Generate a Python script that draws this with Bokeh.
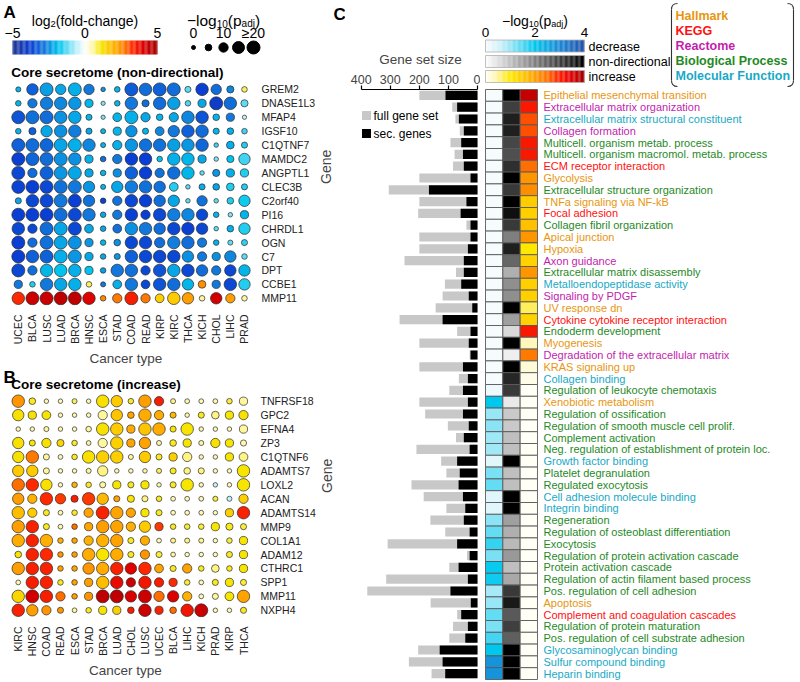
import math
from bokeh.plotting import figure
from bokeh.models import Range1d, FixedTicker, LinearColorMapper, ColumnDataSource
from bokeh.layouts import row, column
from bokeh.embed import file_html
from bokeh.resources import INLINE
from bokeh.core.properties import value

FONT = "Liberation Sans"

# ---------------- Panel A data ----------------
cancers_A = ["UCEC", "BLCA", "LUSC", "LUAD", "BRCA", "HNSC", "ESCA", "STAD", "COAD",
             "READ", "KIRP", "KIRC", "THCA", "KICH", "CHOL", "LIHC", "PRAD"]
genes_A = ["GREM2", "DNASE1L3", "MFAP4", "IGSF10", "C1QTNF7", "MAMDC2", "ANGPTL1", "CLEC3B",
           "C2orf40", "PI16", "CHRDL1", "OGN", "C7", "DPT", "CCBE1", "MMP11"]
fc_A = [
    [-2, -3.2, -2.3, -2.2, -2.1, -2.8, -2.5, -2, -3.3, -3.0, -3.2, -3.0, -1.2, -3.8, -3.0, -2.6, 0.8],
    [-2, -2.8, -2.7, -2.6, -2.4, -2, -1.0, -2, -2.8, -3, -3, -2.3, -1.3, -2.2, -4, -3, -1.2],
    [-3.4, -2.9, -3, -2.5, -2.2, -2, -1, -2, -2.1, -2.2, -2, -2.2, -2.6, -3.4, -2, -2.8, -0.5],
    [-2, -3.2, -2.2, -2.5, -2.7, -2.2, -2, -2, -2.5, -2, -2.6, -2.8, -3.2, -3.0, -2.0, -2.1, -1.4],
    [-3.2, -3, -3.1, -2.2, -2.1, -2.6, -2, -2.1, -2.4, -2.9, -2.9, -2.3, -2.4, -3.1, -1.4, -2.1, -1.6],
    [-3.8, -3.1, -3.0, -2.5, -2.5, -2.1, -3.0, -2.8, -3.8, -3.8, -1.8, -2.1, -2.0, -2.2, -1, -1.8, -1.4],
    [-3.6, -3.0, -3.2, -2.4, -2.2, -2.2, -2, -2.5, -3.2, -3.8, -2.9, -3.0, -2.0, -1.2, -2.4, -2.1, -1.6],
    [-3.7, -3.8, -3.6, -2.9, -2.8, -2.4, -2, -2.2, -2.7, -2.9, -2.9, -1.6, -1.2, -2.1, -2.2, -1.6, -1.6],
    [-2.2, -3.6, -3.6, -2.8, -3.8, -2.9, -3.8, -2.9, -3.6, -3.8, -3, -2.2, -1.2, -2.9, -1.2, -1.6, -1.7],
    [-3.8, -3.8, -3.8, -3.0, -3.6, -2.8, -2.2, -2.8, -3.8, -3.8, -3.6, -2.7, -2.6, -3.6, -2, -1, -2.0],
    [-3.6, -3.6, -3.0, -2.2, -3.6, -2.2, -2.2, -2.9, -2.5, -2.8, -3.0, -3.6, -3.8, -3.6, -1.2, -2.1, -1.6],
    [-3.8, -3.0, -2.9, -2.2, -2.5, -2.4, -2, -2.5, -3.6, -3.6, -3, -2.7, -3.0, -2.8, -2.1, -1.2, -1.5],
    [-3.8, -3.2, -3.2, -2.1, -2.4, -2.2, -2.2, -2.4, -3.2, -3.6, -3.6, -3.6, -2.5, -2.8, -2.5, -2.6, -1.2],
    [-3.6, -3.0, -2.0, -1.8, -2.1, -1.8, -2.3, -2.8, -2.9, -3.6, -3.4, -2.2, -3.6, -3.0, -2.8, -3.6, -2.0],
    [-2.8, -1.6, -2.8, -2.2, -2.1, 0.8, -2.8, -2.1, -2.8, -3.6, -3.4, -3.0, -2.0, 2.5, -2.8, -3.6, -1.6],
    [3.3, 4.3, 4.3, 4.5, 4.5, 4.0, 2.6, 2.7, 3.5, 2.7, 1.5, 1.6, 2.3, 0.6, 4.2, 2.3, 0.6],
]
padj_A = [
    [2, 14, 18, 12, 18, 12, 1, 3, 18, 16, 18, 18, 4, 16, 12, 6, 3],
    [3, 10, 16, 16, 16, 8, 0.5, 3, 16, 6, 16, 16, 3, 8, 18, 16, 6],
    [18, 18, 18, 16, 16, 4, 0.5, 9, 18, 10, 5, 10, 16, 16, 5, 8, 0.5],
    [3, 6, 14, 16, 16, 4, 2, 8, 14, 4, 9, 14, 16, 16, 4, 5, 3],
    [18, 18, 18, 18, 18, 16, 2, 10, 16, 16, 16, 16, 16, 16, 1, 7, 4],
    [18, 18, 18, 18, 16, 8, 3, 10, 16, 16, 3, 16, 16, 8, 1, 6, 14],
    [18, 10, 18, 18, 18, 8, 3, 8, 16, 16, 10, 16, 16, 1, 6, 8, 8],
    [18, 18, 18, 18, 18, 14, 2, 14, 16, 16, 14, 9, 1, 4, 5, 7, 4],
    [4, 16, 18, 18, 18, 14, 3, 10, 16, 16, 14, 14, 1, 12, 1, 5, 14],
    [18, 18, 18, 18, 18, 16, 3, 10, 16, 10, 16, 16, 16, 14, 3, 1, 8],
    [16, 10, 18, 18, 18, 9, 3, 9, 16, 16, 14, 16, 16, 14, 1, 5, 14],
    [18, 10, 18, 18, 18, 8, 3, 5, 16, 16, 12, 16, 16, 10, 3, 2, 4],
    [18, 16, 18, 18, 18, 8, 3, 4, 16, 16, 16, 16, 14, 10, 8, 14, 3],
    [18, 10, 16, 16, 16, 8, 3, 16, 16, 10, 16, 16, 16, 14, 10, 14, 14],
    [8, 3, 16, 16, 16, 3, 2, 9, 16, 9, 16, 16, 14, 7, 8, 16, 14],
    [16, 18, 18, 18, 18, 16, 3, 10, 18, 10, 9, 16, 14, 3, 14, 10, 3],
]

# ---------------- Panel B data ----------------
cancers_B = ["KIRC", "HNSC", "COAD", "READ", "ESCA", "STAD", "BRCA", "LUAD", "CHOL",
             "LUSC", "UCEC", "BLCA", "LIHC", "KICH", "PRAD", "KIRP", "THCA"]
genes_B = ["TNFRSF18", "GPC2", "EFNA4", "ZP3", "C1QTNF6", "ADAMTS7", "LOXL2", "ACAN",
           "ADAMTS14", "MMP9", "COL1A1", "ADAM12", "CTHRC1", "SPP1", "MMP11", "NXPH4"]
fc_B = [
    [2.4, 1.0, 0.5, 0.5, 0.8, 0.5, 1.2, 1.6, 1.0, 2.3, 3.5, 0.7, 0.5, 0.5, 0.5, 0.9, 0.6],
    [1.2, 1.2, 1.1, 0.5, 0.5, 0.5, 0.6, 1.7, 2.2, 2.1, 2.1, 1.9, 0.5, 1.0, 0.7, 1.1, 1.2],
    [0.5, 0.5, 0.6, 0.5, 0.5, 0.6, 1.2, 1.6, 2.1, 1.7, 2.1, 1.1, 1.1, 0.5, 0.5, 0.5, 0.6],
    [1.2, 1.1, 1.2, 1.4, 1.0, 0.6, 0.6, 1.5, 2.2, 2.2, 0.6, 1.0, 1.1, 0.6, 1.2, 1.1, 0.5],
    [1.2, 2.7, 0.6, 0.5, 1.0, 1.2, 1.5, 1.5, 0.6, 1.6, 1.0, 1.5, 0.7, 0.5, 0.5, 1.1, 0.7],
    [1.6, 1.6, 0.6, 0.5, 0.5, 0.6, 0.7, 0.5, 0.5, 0.5, 0.8, 1.0, 0.7, 0.7, 0.5, 0.5, 1.1],
    [2.8, 3.3, 1.2, 0.5, 2.0, 1.0, 0.6, 1.1, 1.0, 1.1, 0.5, 1.0, 1.1, 0.5, -0.5, 0.5, 1.1],
    [2.3, 2.0, 3.3, 3.2, 3.5, 3.2, 1.9, 2.2, 1.1, 0.7, 1.0, 0.5, 0.5, 0.5, 0.9, -0.5, 1.5],
    [1.8, 1.6, 1.0, 0.5, 1.0, 2.2, 3.4, 2.2, 2.2, 1.1, 1.0, 0.5, 0.5, 0.5, 0.5, 1.5, 3.4],
    [2.3, 3.4, 1.0, 0.5, 2.8, 2.2, 2.3, 2.2, 2.0, 1.6, 3.2, 1.0, 0.9, 0.9, 1.1, 1.0, 0.9],
    [2.1, 3.4, 2.0, 2.0, 2.2, 2.0, 2.0, 2.2, 1.0, 2.1, 0.5, 0.7, 0.7, 0.7, 0.5, 0.9, 1.1],
    [1.1, 3.4, 3.3, 2.4, 2.3, 2.1, 1.1, 2.1, 1.0, 2.4, 0.9, 0.6, 0.5, 0.5, 0.5, 1.0, 1.1],
    [2.3, 3.4, 3.4, 2.3, 2.2, 2.4, 2.1, 3.4, 4.0, 3.3, 2.2, 1.0, 2.2, 1.0, 0.7, 1.0, 1.1],
    [0.5, 3.5, 3.4, 1.0, 2.2, 2.3, 1.8, 3.8, 4.3, 3.6, 3.5, 3.3, 0.9, 0.5, 1.0, 1.1, 0.9],
    [1.4, 4.2, 3.5, 2.8, 2.3, 2.4, 4.5, 4.5, 4.1, 4.3, 2.8, 4.1, 2.0, 0.5, 0.6, 1.1, 2.2],
    [3.4, 2.3, 2.4, 2.4, 0.6, 1.0, 1.1, 1.5, 3.5, 4.3, 3.4, 2.8, 3.6, 4.3, 0.5, 0.5, 1.0],
]
padj_B = [
    [16, 5, 1, 1, 2, 1, 16, 14, 3, 16, 10, 2, 1.5, 1.5, 1.5, 3, 8],
    [14, 8, 9, 1, 1, 1, 10, 14, 5, 16, 10, 4, 1, 4, 7, 8, 10],
    [1, 1, 2, 1, 1, 3, 16, 16, 8, 16, 16, 4, 16, 1, 1, 1, 8],
    [14, 4, 10, 6, 3, 1.5, 10, 16, 8, 14, 2, 5, 8, 2, 10, 8, 4],
    [14, 16, 4, 1.5, 3, 16, 16, 16, 2, 14, 4, 8, 10, 1, 1, 8, 9],
    [14, 14, 4, 1, 1, 2, 12, 1, 1, 1, 2, 4, 5, 4, 1, 1, 16],
    [16, 16, 14, 1, 3, 3, 4, 8, 4, 8, 1, 4, 16, 1, 1, 1, 16],
    [14, 10, 16, 12, 6, 16, 14, 4, 6, 4, 3, 1.5, 1.5, 1.5, 2, 2, 10],
    [16, 10, 4, 1.5, 3, 10, 18, 16, 10, 8, 4, 1.5, 1.5, 1.5, 1, 8, 16],
    [16, 16, 4, 1.5, 3, 8, 16, 16, 10, 14, 8, 3, 3, 3, 8, 6, 4],
    [16, 16, 16, 3, 3, 10, 16, 16, 4, 10, 1.5, 2, 2, 2, 1, 3, 8],
    [5, 16, 16, 3, 3, 16, 16, 16, 4, 10, 4, 1.5, 1, 1, 1, 4, 8],
    [16, 16, 16, 3, 3, 14, 16, 16, 14, 16, 9, 4, 10, 3, 7, 3, 8],
    [1.5, 16, 16, 3, 3, 8, 16, 16, 10, 16, 10, 8, 3, 1.5, 4, 8, 4],
    [16, 18, 16, 10, 3, 8, 18, 18, 14, 18, 12, 14, 10, 1.5, 4, 9, 16],
    [16, 14, 10, 4, 1.5, 3, 8, 8, 5, 16, 8, 5, 16, 18, 1, 1, 4],
]

# ---------------- Panel C data ----------------
terms = [
    "Epithelial mesenchymal transition", "Extracellular matrix organization",
    "Extracellular matrix structural constituent", "Collagen formation",
    "Multicell. organism metab. process", "Multicell. organism macromol. metab. process",
    "ECM receptor interaction", "Glycolysis", "Extracellular structure organization",
    "TNFa signaling via NF-kB", "Focal adhesion", "Collagen fibril organization",
    "Apical junction", "Hypoxia", "Axon guidance", "Extracellular matrix disassembly",
    "Metalloendopeptidase activity", "Signaling by PDGF", "UV response dn",
    "Cytokine cytokine receptor interaction", "Endoderm development", "Myogenesis",
    "Degradation of the extracellular matrix", "KRAS signaling up", "Collagen binding",
    "Regulation of leukocyte chemotaxis", "Xenobiotic metabolism", "Regulation of ossification",
    "Regulation of smooth muscle cell prolif.", "Complement activation",
    "Neg. regulation of establishment of protein loc.", "Growth factor binding",
    "Platelet degranulation", "Regulated exocytosis", "Cell adhesion molecule binding",
    "Integrin binding", "Regeneration", "Regulation of osteoblast differentiation", "Exocytosis",
    "Regulation of protein activation cascade", "Protein activation cascade",
    "Regulation of actin filament based process", "Pos. regulation of cell adhesion", "Apoptosis",
    "Complement and coagulation cascades", "Regulation of protein maturation",
    "Pos. regulation of cell substrate adhesion", "Glycosaminoglycan binding",
    "Sulfur compound binding", "Heparin binding",
]
term_source = ["H", "R", "M", "R", "B", "B", "K", "H", "B", "H", "K", "B", "H", "H", "R", "B", "M",
               "R", "H", "K", "B", "H", "R", "H", "M", "B", "H", "B", "B", "B", "B", "M", "B", "B",
               "M", "M", "B", "B", "B", "B", "B", "B", "B", "H", "K", "B", "B", "M", "M", "M"]
full_set_size = [200, 87, 76, 61, 93, 79, 84, 200, 305, 200, 204, 38, 200, 200, 251, 74, 112, 120,
                 144, 268, 70, 200, 27, 200, 64, 97, 200, 180, 102, 74, 210, 125, 107, 227, 185, 107,
                 162, 111, 309, 36, 97, 314, 379, 161, 70, 84, 97, 204, 236, 158]
sec_genes = [110, 70, 64, 47, 56, 50, 47, 24, 167, 38, 58, 24, 24, 33, 47, 47, 56, 30, 18, 120, 24,
             30, 24, 50, 33, 50, 33, 50, 30, 47, 27, 70, 61, 65, 50, 42, 47, 27, 70, 27, 65, 33, 93,
             23, 56, 33, 42, 130, 120, 111]
p_decrease = [0, 0, 0, 0, 0, 0, 0, 0, 0, 0, 0, 0, 0, 0, 0, 0, 0, 0, 0, 0, 0, 0, 0, 0, 0,
              0.15, 2.0, 1.0, 1.1, 0.95, 0.95, 0.3, 1.2, 1.35, 0.35, 0.35, 1.1, 1.35, 1.65, 1.2,
              1.95, 1.9, 0.9, 1.0, 1.35, 1.2, 1.55, 2.0, 2.8, 2.8]
p_nondir = [4, 3.0, 3.5, 3.5, 2.9, 2.75, 3.25, 4, 3.1, 4, 3.75, 3.1, 2.0, 3.5, 2.4, 1.25, 1.75, 1.75,
            4, 1.5, 0.6, 4, 0.25, 4, 3.4, 3.1, 0.35, 0.85, 0.85, 1.0, 1.0, 4, 1.0, 1.0, 4, 4, 1.5,
            1.25, 1.1, 1.6, 1.0, 1.35, 3.1, 3.6, 2.6, 3.0, 2.5, 4, 4, 4]
p_increase = [3.7, 3.1, 2.7, 2.7, 3.1, 3.1, 2.5, 2.1, 2.2, 1.45, 1.4, 1.6, 2.1, 1.0, 1.35, 2.1, 1.4,
              1.4, 0.7, 1.35, 3.1, 0.35, 2.4, 0.2, 0.08, 0, 0, 0, 0, 0, 0, 0, 0, 0, 0, 0, 0, 0, 0,
              0, 0, 0, 0, 0, 0, 0, 0, 0, 0, 0]
source_names = ["Hallmark", "KEGG", "Reactome", "Biological Process", "Molecular Function"]
source_codes = ["H", "K", "R", "B", "M"]
source_colors = ["#e8960f", "#ff1010", "#c21eae", "#1f8a1f", "#19a9c6"]
size_ticks = [0, 5, 10, 15, 20]
fc_ticks = [-5, 0, 5]
p_ticks = [0, 2, 4]
bar_ticks = [0, 100, 200, 300, 400]


# ---------------- helpers ----------------
def hex2rgb(h):
    h = h.lstrip("#")
    return [int(h[i:i + 2], 16) for i in (0, 2, 4)]


def ramp(anchors, n=256):
    lo, hi = anchors[0][0], anchors[-1][0]
    out = []
    for k in range(n):
        v = lo + (hi - lo) * k / (n - 1)
        for (a, ca), (b, cb) in zip(anchors, anchors[1:]):
            if a <= v <= b + 1e-9:
                t = (v - a) / (b - a) if b > a else 0
                c1, c2 = hex2rgb(ca), hex2rgb(cb)
                out.append("#%02x%02x%02x" % tuple(int(round(c1[i] + (c2[i] - c1[i]) * t)) for i in range(3)))
                break
    return out


fc_mapper = LinearColorMapper(low=-5, high=5, palette=ramp([
    (-5, "#22378f"), (-3.8, "#0a3fd4"), (-2.8, "#1278dc"), (-1.8, "#00c6ee"), (-0.8, "#9fe9f7"),
    (0, "#ffffff"), (0.6, "#fff7a0"), (1.1, "#f7e600"), (1.8, "#ffbf00"), (2.6, "#ff8a00"),
    (3.3, "#ff2a00"), (4.0, "#e00000"), (5, "#a00000")]))
dec_mapper = LinearColorMapper(low=0, high=4, palette=ramp([
    (0, "#f6fcfd"), (0.5, "#d6f3f9"), (1.0, "#9ae6f6"), (2.0, "#00c8ee"), (3.0, "#1a88d8"), (4, "#2250a8")]))
nd_mapper = LinearColorMapper(low=0, high=4, palette=ramp([(0, "#ffffff"), (4, "#000000")]))
inc_mapper = LinearColorMapper(low=0, high=4, palette=ramp([
    (0, "#fffff6"), (0.4, "#fff6b4"), (1.0, "#ffe800"), (1.5, "#ffc800"), (2.0, "#ffa000"),
    (2.5, "#ff7000"), (3.0, "#ff2000"), (3.4, "#e80000"), (4, "#a00000")]))

CW = {'l': .222, 'o': .556, 'g': .556, '(': .333, ')': .333, 'f': .278, 'd': .556, '-': .333,
      'c': .5, 'h': .556, 'a': .556, 'n': .556, 'e': .556, 'p': .556, 'j': .222, '\u2212': .584}


def tw(s, size):
    return sum(CW.get(ch, .556) for ch in s) * size


def dot_size(p):
    return 4 + 0.53 * min(p, 17)


def mkfig(w, h, xr, yr, left=0, right=0, top=0, bottom=0, xloc=None, yloc=None):
    p = figure(width=w, height=h, x_range=xr, y_range=yr, x_axis_location=xloc, y_axis_location=yloc,
               min_border_left=left, min_border_right=right, min_border_top=top, min_border_bottom=bottom,
               output_backend="svg", toolbar_location=None)
    p.outline_line_color = None
    p.grid.visible = False
    p.background_fill_color = "white"
    p.border_fill_color = "white"
    try:
        p.frame_align = False
    except Exception:
        pass
    return p


def txt(p, x, y, s, size, color="black", bold=False, align="left", baseline="middle",
        xr="default", yr="default", xoff=0, yoff=0):
    p.text(x=[x], y=[y], text=[s], text_font=value(FONT), text_font_size="%spx" % size,
           text_font_style="bold" if bold else "normal", text_color=color, text_align=align,
           text_baseline=baseline, x_offset=xoff, y_offset=yoff, x_range_name=xr, y_range_name=yr)


def rich(p, x, y, pieces, xr="default", yr="default"):
    total = sum(tw(t, s) for t, s, d in pieces)
    off = -total / 2
    for t, s, d in pieces:
        txt(p, x, y, t, s, baseline="alphabetic", xr=xr, yr=yr, xoff=off, yoff=d)
        off += tw(t, s)


def style_axis(ax):
    ax.axis_line_color = None
    ax.major_tick_line_color = None
    ax.minor_tick_line_color = None
    ax.major_label_text_font = FONT
    ax.axis_label_text_font = FONT
    ax.axis_label_text_font_style = "normal"


# ---------------- layout constants (page px, origin at top-left) ----------------
LW = 345          # left column width
RB = 87           # right border of dot plots (gene labels)
COL0, COLSTEP = 18.3, 14.53
ROWSTEP = 14.5
BORDER_B = 53


def dot_fig(genes, cancers, fc, pv, fig_top, fig_h, row0, title, title_y, letter=None, letter_y=None):
    fl, fr = 0, LW - RB
    frame_bot = fig_top + fig_h - BORDER_B
    xr = Range1d((fl - COL0) / COLSTEP, (fr - COL0) / COLSTEP)
    yr = Range1d((frame_bot - row0) / ROWSTEP, (fig_top - row0) / ROWSTEP)
    p = mkfig(LW, fig_h, xr, yr, left=0, right=RB, top=0, bottom=BORDER_B, xloc="below", yloc="right")
    xs, ys, cs, ss = [], [], [], []
    for i in range(len(genes)):
        for j in range(len(cancers)):
            xs.append(j); ys.append(i); cs.append(fc[i][j]); ss.append(dot_size(pv[i][j]))
    src = ColumnDataSource(dict(x=xs, y=ys, fc=cs, size=ss))
    p.scatter(x="x", y="y", size="size", source=src, fill_color={"field": "fc", "transform": fc_mapper},
              line_color="#2a2a2a", line_width=0.7)
    ax = p.below[0]
    style_axis(ax)
    ax.ticker = FixedTicker(ticks=list(range(len(cancers))))
    ax.major_label_overrides = {i: c for i, c in enumerate(cancers)}
    ax.major_label_orientation = math.pi / 2
    ax.major_label_text_font_size = "10.5px"
    ax.major_label_text_color = "#222222"
    ax.major_label_standoff = 3
    ax.axis_label = "Cancer type"
    ax.axis_label_text_font_size = "13.5px"
    ax.axis_label_standoff = 3
    ay = p.right[0]
    style_axis(ay)
    ay.ticker = FixedTicker(ticks=list(range(len(genes))))
    ay.major_label_overrides = {i: g for i, g in enumerate(genes)}
    ay.major_label_text_font_size = "10.5px"
    ay.major_label_text_color = "#222222"
    ay.major_label_standoff = 4
    ay.axis_label = "Gene"
    ay.axis_label_text_font_size = "14px"
    ay.axis_label_standoff = 8
    try:
        ay.axis_label_orientation = math.pi / 2
    except Exception:
        pass
    tx = (11 - COL0) / COLSTEP
    txt(p, tx, (title_y - row0) / ROWSTEP, title, 13.5, bold=True)
    if letter:
        txt(p, (3 - COL0) / COLSTEP, (letter_y - row0) / ROWSTEP, letter, 17, bold=True, baseline="top")
    return p


# ---------------- legend figure (top-left) ----------------
LEG_H = 62
leg = mkfig(LW, LEG_H, Range1d(0, LW), Range1d(LEG_H, 0))
fcpx = lambda px: -5 + (px - 12) / 14.5
szpx = lambda px: (px - 193) / 3.0
leg.extra_x_ranges = {"fc": Range1d(fcpx(0), fcpx(LW)), "sz": Range1d(szpx(0), szpx(LW))}
nseg = 120
segs = [-5 + 10 * (k + 0.5) / nseg for k in range(nseg)]
leg.rect(x=segs, y=[47] * nseg, width=10 / nseg * 1.05, height=14, x_range_name="fc",
         fill_color={"field": "x", "transform": fc_mapper}, line_color=None)
for t in fc_ticks:
    txt(leg, t, 32, ("\u2212%d" % -t) if t < 0 else str(t), 14, align="center", xr="fc")
rich(leg, 0, 20, [("log", 14, 0), ("2", 9.5, 3), ("(fold-change)", 14, 0)], xr="fc")
leg.scatter(x=size_ticks, y=[47] * len(size_ticks), size=[dot_size(s) for s in size_ticks],
            x_range_name="sz", fill_color="black", line_color="black")
for t, lab in zip([0, 10, 20], ["0", "10", "\u226520"]):
    txt(leg, t, 32, lab, 14, align="center", xr="sz")
rich(leg, 10, 20, [("\u2212log", 15.5, 0), ("10", 10, 3), ("(p", 15.5, 0), ("adj", 10, 3), (")", 15.5, 0)], xr="sz")
txt(leg, 3, 2, "A", 17, bold=True, baseline="top")
txt(leg, 333, 4, "C", 17, bold=True, baseline="top")

figA = dot_fig(genes_A, cancers_A, fc_A, padj_A, 62, 306, 90, "Core secretome (non-directional)", 72)
figB = dot_fig(genes_B, cancers_B, fc_B, padj_B, 368, 312, 402, "Core secretome (increase)", 385, "B", 367)

# ---------------- panel C ----------------
HEAT_TOP, ROW_H = 89, 11.8
TOP, BOT = 0, 680
rowpx = lambda px: (px - HEAT_TOP) / ROW_H - 0.5
BAR0, BAR_SCALE = 477, 0.2908
barv = lambda px: (BAR0 - px) / BAR_SCALE

bars = mkfig(135, BOT - TOP, Range1d(barv(360), barv(480)), Range1d(rowpx(BOT), rowpx(HEAT_TOP)),
             left=15, right=0, top=HEAT_TOP - TOP, bottom=0, xloc="above", yloc=None)
rows = list(range(len(terms)))
bars.hbar(y=rows, left=0, right=full_set_size, height=0.78, fill_color="#c8c8c8", line_color=None)
bars.hbar(y=rows, left=0, right=sec_genes, height=0.78, fill_color="black", line_color=None)
bx = bars.above[0]
bx.ticker = FixedTicker(ticks=bar_ticks)
bx.bounds = (0, 400)
bx.minor_tick_line_color = None
bx.major_tick_in = 0
bx.major_tick_out = 4
bx.axis_line_width = 1.2
bx.major_tick_line_width = 1.2
bx.major_label_standoff = 2
bx.major_label_text_font = FONT
bx.major_label_text_font_size = "12.5px"
bx.axis_label = "Gene set size"
bx.axis_label_text_font = FONT
bx.axis_label_text_font_style = "normal"
bx.axis_label_text_font_size = "13.5px"
bx.axis_label_standoff = 5
bars.extra_x_ranges = {"px": Range1d(360, 480)}
bars.extra_y_ranges = {"py": Range1d(BOT, HEAT_TOP)}
bars.rect(x=[366, 366], y=[115, 133], width=9, height=9, fill_color=["#c8c8c8", "black"],
          line_color=None, x_range_name="px", y_range_name="py")
txt(bars, 373, 115, "full gene set", 12, xr="px", yr="py")
txt(bars, 373, 133, "sec. genes", 12, xr="px", yr="py")

HEAT_X0, CELL_W = 485, 17.33
HR = 796
colpx = lambda px: (px - HEAT_X0) / CELL_W - 0.5
heat = mkfig(HR - 480, BOT - TOP, Range1d(colpx(480), colpx(HR)), Range1d(rowpx(BOT), rowpx(TOP)))
for k, (vals, mp) in enumerate([(p_decrease, dec_mapper), (p_nondir, nd_mapper), (p_increase, inc_mapper)]):
    src = ColumnDataSource(dict(x=[k] * len(rows), y=rows, v=vals))
    heat.rect(x="x", y="y", width=1, height=1, source=src,
              fill_color={"field": "v", "transform": mp}, line_color="#5a5a5a", line_width=0.9)
code_color = dict(zip(source_codes, source_colors))
lab_src = ColumnDataSource(dict(x=[2.5] * len(rows), y=rows, t=terms, c=[code_color[s] for s in term_source]))
heat.text(x="x", y="y", text="t", text_color="c", source=lab_src, x_offset=6, text_font=value(FONT),
          text_font_size="11px", text_baseline="middle", text_align="left")

cbv = lambda px: (px - HEAT_X0) / 24.75
heat.extra_x_ranges = {"px": Range1d(480, HR), "cb": Range1d(cbv(480), cbv(HR))}
heat.extra_y_ranges = {"py": Range1d(BOT, TOP)}
ncb = 80
cbx = [4 * (k + 0.5) / ncb for k in range(ncb)]
for yc, mp, lab in [(45.5, dec_mapper, "decrease"), (61, nd_mapper, "non-directional"), (76, inc_mapper, "increase")]:
    heat.rect(x=cbx, y=[yc] * ncb, width=4 / ncb * 1.05, height=12, x_range_name="cb", y_range_name="py",
              fill_color={"field": "x", "transform": mp}, line_color=None)
    heat.rect(x=[2], y=[yc], width=4, height=12, x_range_name="cb", y_range_name="py",
              fill_color=None, line_color="#b0b0b0", line_width=0.8)
    txt(heat, 588, yc + 0.5, lab, 12.5, xr="px", yr="py")
for t in p_ticks:
    txt(heat, t, 32, str(t), 13.5, align="center", xr="cb", yr="py")
rich(heat, 2, 20, [("\u2212log", 14, 0), ("10", 9, 3), ("(p", 14, 0), ("adj", 9, 3), (")", 14, 0)],
     xr="cb", yr="py")
for k, (nm, colr) in enumerate(zip(source_names, source_colors)):
    txt(heat, 675, 15 + 15 * k, nm, 12.5, color=colr, bold=True, xr="px", yr="py")
# bracket box around source legend
BL, BRX, BT, BB = 671, 793, 3, 86
heat.quadratic(x0=[BL + 6, BL, BRX - 6, BRX], y0=[BT, BB - 6, BT, BB - 6],
               x1=[BL, BL + 6, BRX, BRX - 6], y1=[BT + 6, BB, BT + 6, BB],
               cx=[BL, BL, BRX, BRX], cy=[BT, BB, BT, BB], line_color="#333333", line_width=1.1,
               x_range_name="px", y_range_name="py")
heat.segment(x0=[BL, BRX], y0=[BT + 6, BT + 6], x1=[BL, BRX], y1=[BB - 6, BB - 6], line_color="#333333",
             line_width=1.1, x_range_name="px", y_range_name="py")

layout = row(column(leg, figA, figB), bars, heat)
open("out.html", "w").write(file_html(layout, INLINE))
